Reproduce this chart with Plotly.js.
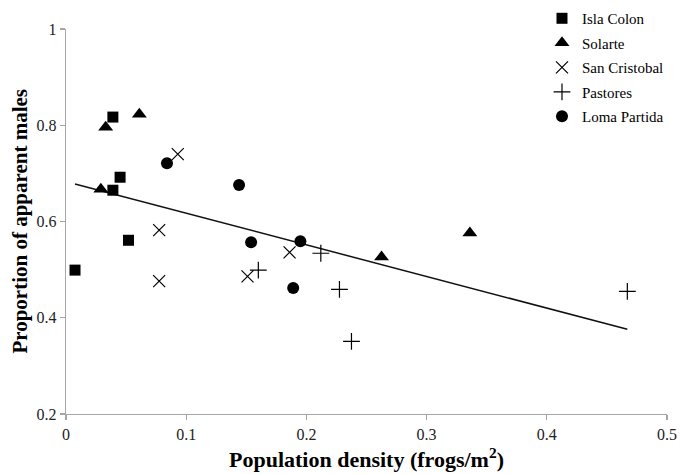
<!DOCTYPE html>
<html>
<head>
<meta charset="utf-8">
<script src="https://cdn.plot.ly/plotly-3.0.1.min.js"></script>
<style>html,body{margin:0;padding:0;background:#fff;}#chart{width:679px;height:474px;}</style>
</head>
<body>
<div id="chart"></div>
<script>
// Data
const seriesNames = ["Isla Colon", "Solarte", "San Cristobal", "Pastores", "Loma Partida"];

const islaColonX = [0.039, 0.045, 0.039, 0.052, 0.0075];
const islaColonY = [0.817, 0.692, 0.665, 0.561, 0.499];

const solarteX = [0.033, 0.061, 0.029, 0.336, 0.2625];
const solarteY = [0.796, 0.823, 0.667, 0.576, 0.526];

const sanCristobalX = [0.093, 0.0775, 0.0775, 0.151, 0.186];
const sanCristobalY = [0.740, 0.582, 0.476, 0.486, 0.536];

const pastoresX = [0.160, 0.212, 0.2275, 0.2375, 0.467];
const pastoresY = [0.499, 0.534, 0.459, 0.351, 0.455];

const lomaPartidaX = [0.084, 0.144, 0.154, 0.195, 0.189];
const lomaPartidaY = [0.721, 0.676, 0.557, 0.559, 0.462];

const trendX = [0.0075, 0.467];
const trendY = [0.678, 0.376];

const xTickVals = [0, 0.1, 0.2, 0.3, 0.4, 0.5];
const xTickText = ["0", "0.1", "0.2", "0.3", "0.4", "0.5"];
const yTickVals = [0.2, 0.4, 0.6, 0.8, 1];
const yTickText = ["0.2", "0.4", "0.6", "0.8", "1"];

const FONT = "'Liberation Serif', 'Times New Roman', serif";

function pts(name, x, y, symbol, size, lineW) {
  return {
    type: "scatter", mode: "markers", name: name, x: x, y: y,
    legendgroup: name,
    marker: {symbol: symbol, size: size, color: "#000",
             line: {color: "#000", width: lineW}}
  };
}

const traces = [
  {type: "scatter", mode: "lines", x: trendX, y: trendY, showlegend: false,
   line: {color: "#111", width: 1.5}, hoverinfo: "skip"},
  pts(seriesNames[0], islaColonX, islaColonY, "square", 11, 0),
  pts(seriesNames[1], solarteX, solarteY, "triangle-up", 13, 0),
  pts(seriesNames[2], sanCristobalX, sanCristobalY, "x-thin-open", 12, 1.2),
  pts(seriesNames[3], pastoresX, pastoresY, "cross-thin-open", 12, 1.2),
  pts(seriesNames[4], lomaPartidaX, lomaPartidaY, "circle", 12, 0)
];

const axisCommon = {
  showgrid: false, zeroline: false, showline: true,
  linecolor: "#a6a6a6", linewidth: 1.3,
  ticks: "outside", ticklen: 5, tickwidth: 1.3, tickcolor: "#a6a6a6",
  tickfont: {family: FONT, size: 16, color: "#222"},
  tickmode: "array", automargin: false
};

const layout = {
  width: 679, height: 474,
  margin: {l: 66, r: 12, t: 29, b: 60, autoexpand: false},
  paper_bgcolor: "#fff", plot_bgcolor: "#fff",
  font: {family: FONT, color: "#000"},
  xaxis: Object.assign({}, axisCommon, {range: [0, 0.5], tickvals: xTickVals, ticktext: xTickText}),
  yaxis: Object.assign({}, axisCommon, {range: [0.2, 1], tickvals: yTickVals, ticktext: yTickText}),
  showlegend: true,
  legend: {x: 0.792, xanchor: "left", y: 1.07, yanchor: "top",
           font: {family: FONT, size: 15, color: "#000"},
           bgcolor: "rgba(0,0,0,0)", traceorder: "grouped", tracegroupgap: 2},
  annotations: [
    {text: "<b>Population density (frogs/m<sup>2</sup>)</b>", xref: "paper", yref: "paper",
     x: 0.5, y: -0.114, xanchor: "center", yanchor: "middle", showarrow: false,
     font: {family: FONT, size: 22, color: "#000"}},
    {text: "<b>Proportion of apparent males</b>", xref: "paper", yref: "paper",
     x: -0.078, y: 0.5, xanchor: "center", yanchor: "middle", textangle: -90, showarrow: false,
     font: {family: FONT, size: 21, color: "#000"}}
  ]
};

Plotly.newPlot("chart", traces, layout, {displayModeBar: false, staticPlot: true});
</script>
</body>
</html>
